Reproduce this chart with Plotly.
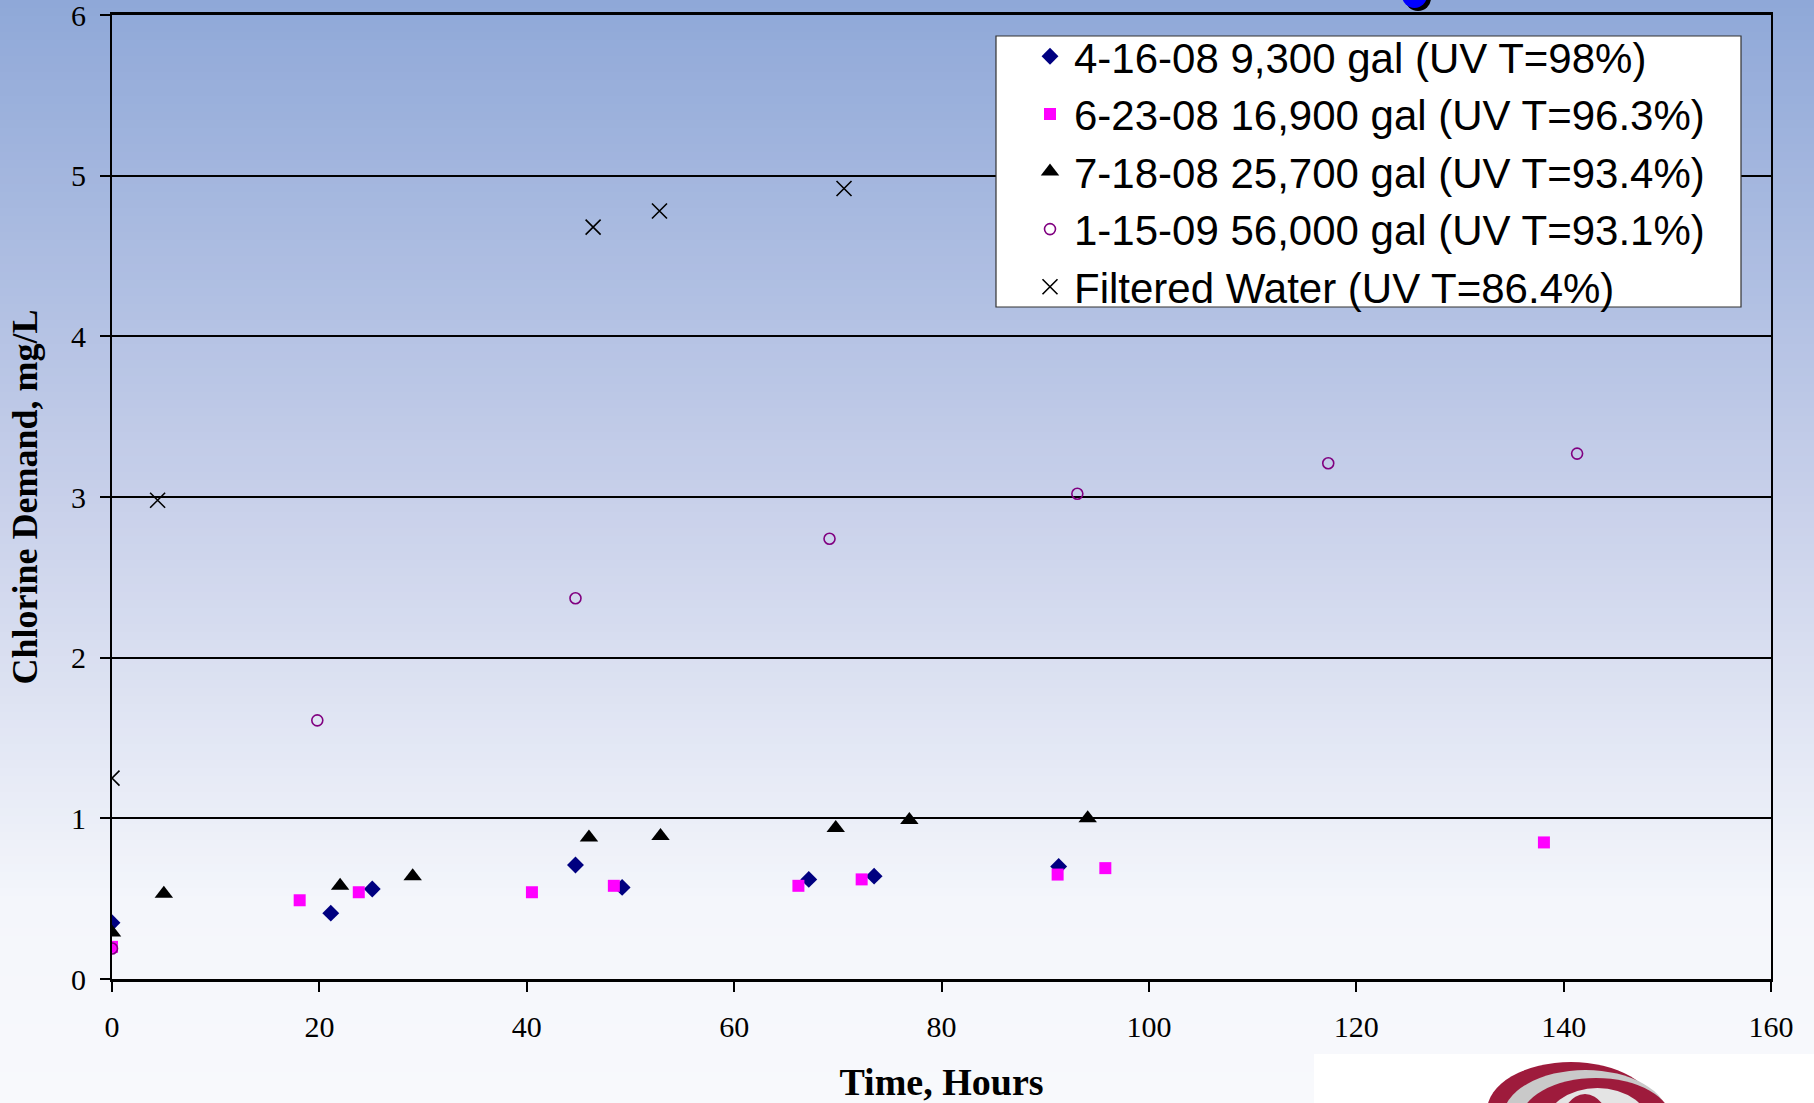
import plotly.graph_objects as go

# ---------------- data ----------------
s1_name = "4-16-08 9,300 gal (UV T=98%)"
s1_x = [0, 21.1, 25.1, 44.7, 49.2, 67.2, 73.5, 91.3]
s1_y = [0.35, 0.41, 0.56, 0.71, 0.57, 0.62, 0.64, 0.70]

s2_name = "6-23-08 16,900 gal (UV T=96.3%)"
s2_x = [0, 18.1, 23.8, 40.5, 48.4, 66.2, 72.3, 91.2, 95.8, 138.1]
s2_y = [0.20, 0.49, 0.54, 0.54, 0.58, 0.58, 0.62, 0.65, 0.69, 0.85]

s3_name = "7-18-08 25,700 gal (UV T=93.4%)"
s3_x = [0, 5.0, 22.0, 29.0, 46.0, 52.9, 69.8, 76.9, 94.1]
s3_y = [0.29, 0.53, 0.58, 0.64, 0.88, 0.89, 0.94, 0.99, 1.00]

s4_name = "1-15-09 56,000 gal (UV T=93.1%)"
s4_x = [0, 19.8, 44.7, 69.2, 93.1, 117.3, 141.3]
s4_y = [0.19, 1.61, 2.37, 2.74, 3.02, 3.21, 3.27]

s5_name = "Filtered Water (UV T=86.4%)"
s5_x = [0, 4.4, 46.4, 52.8, 70.6]
s5_y = [1.25, 2.98, 4.68, 4.78, 4.92]

x_ticks = [0, 20, 40, 60, 80, 100, 120, 140, 160]
y_ticks = [0, 1, 2, 3, 4, 5, 6]

# ---------------- layout geometry ----------------
W, H = 1814, 1103
L, R, T, B = 112, 1771, 15, 979   # plot area in pixels
PW, PH = R - L, B - T


def px(xp):
    return (xp - L) / PW


def py(yp):
    return (B - yp) / PH


fig = go.Figure()

fig.add_trace(go.Scatter(x=s1_x, y=s1_y, mode="markers", name=s1_name,
                         marker=dict(symbol="diamond", size=13, color="#000080")))
fig.add_trace(go.Scatter(x=s2_x, y=s2_y, mode="markers", name=s2_name,
                         marker=dict(symbol="square", size=12, color="#FF00FF")))
fig.add_trace(go.Scatter(x=s3_x, y=s3_y, mode="markers", name=s3_name,
                         marker=dict(symbol="triangle-up", size=16, color="#000000")))
fig.add_trace(go.Scatter(x=s4_x, y=s4_y, mode="markers", name=s4_name,
                         marker=dict(symbol="circle-open", size=11, color="#800080",
                                     line=dict(width=1.6, color="#800080"))))
fig.add_trace(go.Scatter(x=s5_x, y=s5_y, mode="markers", name=s5_name,
                         marker=dict(symbol="x-thin-open", size=15, color="#000000",
                                     line=dict(width=1.6, color="#000000"))))

# ---------------- background gradient ----------------
stops = [(0, (143, 168, 216)), (500, (200, 208, 234)), (900, (244, 246, 251)), (1103, (248, 249, 252))]


def col_at(yp):
    for (y0, c0), (y1, c1) in zip(stops[:-1], stops[1:]):
        if y0 <= yp <= y1:
            t = (yp - y0) / (y1 - y0)
            return "rgb(%d,%d,%d)" % tuple(round(a + (b - a) * t) for a, b in zip(c0, c1))
    return "rgb(%d,%d,%d)" % stops[-1][1]


shapes = []
step = 8
for yp in range(0, H, step):
    shapes.append(dict(type="rect", xref="paper", yref="paper", layer="below",
                       x0=px(0), x1=px(W), y0=py(yp + step + 1), y1=py(yp),
                       fillcolor=col_at(yp + step / 2), line=dict(width=0)))

# white logo panel bottom-right and simple logo swirl
shapes.append(dict(type="rect", xref="paper", yref="paper", layer="below",
                   x0=px(1314), x1=px(W), y0=py(H + 2), y1=py(1054),
                   fillcolor="white", line=dict(width=0)))
for (x0, y0, x1, y1, c) in [(1487, 1062, 1655, 1160, "#9E1B3C"),
                            (1503, 1070, 1668, 1165, "#C9C9C9"),
                            (1520, 1078, 1672, 1165, "#9E1B3C"),
                            (1545, 1088, 1650, 1165, "#E4E4E4"),
                            (1560, 1094, 1610, 1165, "#9E1B3C")]:
    shapes.append(dict(type="circle", xref="paper", yref="paper", layer="above",
                       x0=px(x0), x1=px(x1), y0=py(y1), y1=py(y0),
                       fillcolor=c, line=dict(width=0)))

# blue bullet at top edge
shapes.append(dict(type="circle", xref="paper", yref="paper", layer="above",
                   x0=px(1405), x1=px(1431), y0=py(11), y1=py(-15),
                   fillcolor="#000000", line=dict(width=0)))
shapes.append(dict(type="circle", xref="paper", yref="paper", layer="above",
                   x0=px(1402), x1=px(1427), y0=py(8), y1=py(-17),
                   fillcolor="#0000FF", line=dict(width=0)))

# legend box (white panel with thin border) behind the legend entries
shapes.append(dict(type="rect", xref="paper", yref="paper", layer="above",
                   x0=px(996), x1=px(1741), y0=py(307), y1=py(36),
                   fillcolor="white", line=dict(width=1.2, color="#333333")))

fig.update_layout(
    width=W, height=H,
    margin=dict(l=L, r=W - R, t=T, b=H - B, autoexpand=False),
    paper_bgcolor="rgb(248,249,252)",
    plot_bgcolor="rgba(0,0,0,0)",
    shapes=shapes,
    showlegend=True,
    legend=dict(x=px(1026), y=py(22.5), xanchor="left", yanchor="top",
                bgcolor="rgba(0,0,0,0)", borderwidth=0,
                font=dict(family="Liberation Sans, Arial", size=42, color="black"),
                itemwidth=38, tracegroupgap=0),
    xaxis=dict(range=[0, 160], tickvals=x_ticks, ticks="outside", ticklen=10,
               tickwidth=1.5, tickcolor="black", showgrid=False, zeroline=False,
               showline=True, linewidth=3, linecolor="black", mirror=True,
               tickfont=dict(family="Liberation Serif, Times New Roman", size=30, color="black"),
               ticklabelstandoff=9, ticklabeloverflow="allow",
               title=dict(text="<b>Time, Hours</b>", standoff=28,
                          font=dict(family="Liberation Serif, Times New Roman", size=38, color="black"))),
    yaxis=dict(range=[0, 6], tickvals=y_ticks, ticks="outside", ticklen=10,
               tickwidth=1.5, tickcolor="black", showgrid=True, gridcolor="black",
               gridwidth=1.5, zeroline=False,
               showline=True, linewidth=2, linecolor="black", mirror=True,
               tickfont=dict(family="Liberation Serif, Times New Roman", size=30, color="black"),
               ticklabelstandoff=8, ticklabeloverflow="allow",
               title=dict(text="<b>Chlorine Demand, mg/L</b>", standoff=22,
                          font=dict(family="Liberation Serif, Times New Roman", size=36, color="black"))),
)

fig.write_html("out.html")
